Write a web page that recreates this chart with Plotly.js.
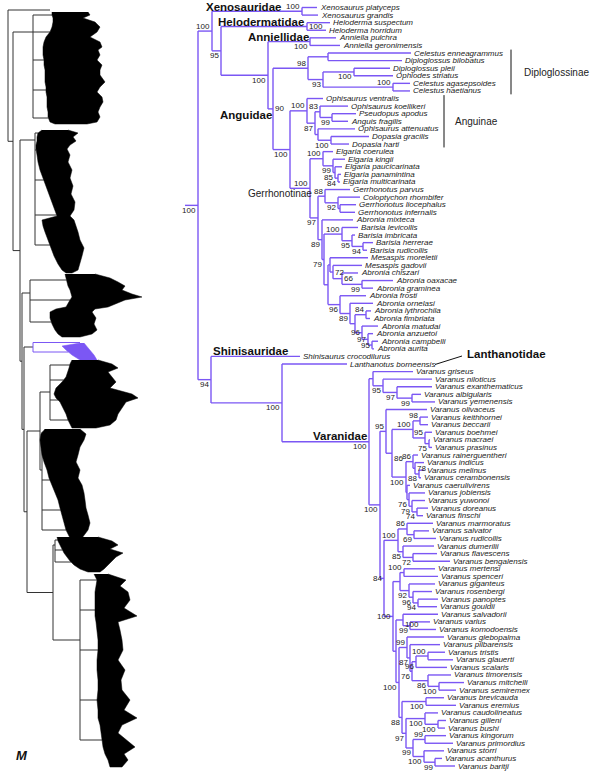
<!DOCTYPE html>
<html><head><meta charset="utf-8">
<script src="https://cdn.plot.ly/plotly-3.0.1.min.js"></script>
<style>html,body{margin:0;padding:0;background:#fff}#chart{width:600px;height:776px}</style>
</head><body><div id="chart"></div>
<script>
// ---------------- DATA ----------------
// Anguimorpha tree (Newick-like). Number after ':' = node depth from root (distance units).
// Internal labels = bootstrap support; trailing letter = label placement (a above, b below, r right, l left, c below-right).
const xenosauridae = "(Xenosaurus_platyceps:119,Xenosaurus_grandis:120)100a:104";
const helodermatidae = "(Heloderma_suspectum:132,Heloderma_horridum:128)100r:109";
const anniellidae = "(Anniella_pulchra:138,Anniella_geronimensis:142)100b:112";
const diploglossinae = "((Celestus_enneagrammus:213,Diploglossus_bilobatus:204):130,((Diploglossus_pleii:192,Ophiodes_striatus:195)100b:156,(Celestus_agasepsoides:212,Celestus_haetianus:212)100a:195)93b:125)98a:110";
const anguinae = "(Ophisaurus_ventralis:125,((Ophisaurus_koellikeri:150,(Pseudopus_apodus:158,Anguis_fragilis:150)99b:134)83a:122,(Ophisaurus_attenuatus:157,(Dopasia_gracilis:171,Dopasia_harti:151)100b:133):120)87b:117)100a:109";
const elgaria = "(Elgaria_coerulea:135,(Elgaria_kingii:147,(Elgaria_paucicarinata:144,(Elgaria_panamintina:143,Elgaria_multicarinata:142)84b:140)85b:137)99b:135)100a:125";
const gerrhonotus = "(Gerrhonotus_parvus:152,(Coloptychon_rhombifer:162,(Gerrhonotus_liocephalus:158,Gerrhonotus_infernalis:157):142)92b:140)88a:127";
const barisia = "(Barisia_levicollis:160,(Barisia_imbricata:157,(Barisia_herrerae:175,Barisia_rudicollis:169)94b:165)95b:154)100a:144";
const mesaspis = "(Mesaspis_moreletii:170,(Mesaspis_gadovii:164,(Abronia_chiszari:160,(Abronia_oaxacae:195,Abronia_graminea:175)99b:164)66r:144)72r:135):132";
const abronia = "(Abronia_frosti:168,(Abronia_ornelasi:175,((Abronia_lythrochila:173,Abronia_fimbriata:172)84a:168,(Abronia_matudai:180,(Abronia_anzuetoi:175,(Abronia_campbelli:180,Abronia_aurita:176)95l:174)97l:170)96l:164):157)89b:152)96b:142";
const african = "(Varanus_griseus:215,(Varanus_niloticus:234,(Varanus_exanthematicus:234,(Varanus_albigularis:223,Varanus_yemenensis:237)99b:214)97b:199)95b:185):175";
const hapturosaurus = "((Varanus_keithhornei:230,Varanus_beccarii:230)98a:222,(Varanus_boehmei:234,(Varanus_macraei:232,Varanus_prasinus:234)75b:231)95a:227)100a:215";
const euprepiosaurus = "((Varanus_rainerguentheri:220,(Varanus_indicus:226,(Varanus_melinus:226,Varanus_cerambonensis:223)88b:221)78r:217)86a:215,(Varanus_caerulivirens:212,(Varanus_jobiensis:227,(Varanus_yuwonoi:227,(Varanus_doreanus:230,Varanus_finschi:225)74b:219)79b:214)76b:211):209)100b:208";
const soterosaurus = "((Varanus_marmoratus:235,(Varanus_salvator:231,Varanus_rudicollis:238)69b:216)86a:209,(Varanus_dumerilii:236,(Varanus_flavescens:239,Varanus_bengalensis:252)72b:215)85b:205)100a:200";
const varanusSS = "((Varanus_mertensi:237,Varanus_spenceri:240)100a:206,(Varanus_giganteus:237,(Varanus_rosenbergi:234,(Varanus_panoptes:240,Varanus_gouldii:239)94b:220)96b:215)92b:211):202";
const papusaurus = "(Varanus_salvadorii:240,(Varanus_varius:232,Varanus_komodoensis:238)99b:212)100c:205";
const odatria1 = "(Varanus_glebopalma:246,(Varanus_pilbarensis:242,(((Varanus_tristis:247,Varanus_glauerti:255)100a:230,Varanus_scalaris:249)96b:218,(Varanus_timorensis:253,(Varanus_mitchelli:266,Varanus_semiremex:258)100b:241)86b:230)76b:214)87b:212)99a:209";
const odatria2 = "((Varanus_brevicauda:246,Varanus_eremius:258)100b:228,((Varanus_caudolineatus:240,(Varanus_gilleni:248,Varanus_bushi:247)100b:240)100b:227,((Varanus_kingorum:248,Varanus_primordius:255)99a:227,(Varanus_storri:246,(Varanus_acanthurus:244,Varanus_baritji:257)99b:237)100b:226)99b:215)97b:208)88b:204";
const rootStemLength = 13;

// Family / subfamily labels
const familyLabels = ["Xenosauridae","Helodermatidae","Anniellidae","Anguidae","Shinisauridae","Lanthanotidae","Varanidae"];
const subfamilyLabels = ["Gerrhonotinae","Diploglossinae","Anguinae"];

// Overview (thumbnail) tree of all squamates: backbone node depths + collapsed clade silhouettes
const thumbTree = {d:8, kids:[
  {tip:'Dibamidae', y:10, d:50},
  {d:13, kids:[
    {blob:'Gekkota'},
    {d:20, kids:[
      {blob:'Scinciformata'},
      {d:22, kids:[
        {blob:'Laterata'},
        {d:24, kids:[
          {blob:'Anguimorpha'},
          {d:27, kids:[
            {d:40, kids:[{blob:'IguaniaA'},{blob:'IguaniaB'}]},
            {d:53, kids:[{blob:'Scolecophidia'},{blob:'Alethinophidia'}]}
          ]}
        ]}
      ]}
    ]}
  ]}
]};
const thumbBlobs = {
  Gekkota:{attach:32, crown:33, subs:[15,32,60,90,118],
    ys:[12,15,18,22,27,32,37,42,47,50,55,60,65,70,75,82,87,92,97,102,107,112,117,122,124],
    left:[52,52,53,53,52,50,46,44,43,43,43,44,44,45,45,45,46,46,47,47,47,48,48,50,55],
    right:[88,90,83,95,100,97,90,100,102,98,100,97,102,100,100,105,100,97,102,103,100,98,100,97,87]},
  Scinciformata:{attach:140, crown:35, subs:[133,150,180,215,245],
    ys:[130,133,137,141,145,149,155,162,170,178,186,194,202,210,216,220,226,232,240,248,256,264,270,273],
    left:[42,38,37,37,36,36,37,38,40,43,46,49,52,55,57,42,43,45,48,51,54,58,62,66],
    right:[68,78,73,76,70,67,70,68,72,70,73,71,75,74,70,74,76,78,80,84,82,80,78,72]},
  Laterata:{attach:293, crown:30, subs:[280,300,322],
    ys:[274,278,282,286,290,294,297,300,303,307,309,312,318,324,330,334,337],
    left:[65,66,67,68,70,71,72,70,68,66,56,50,50,52,55,58,62],
    right:[95,110,118,125,122,132,142,125,118,108,95,92,96,94,97,92,80]},
  Anguimorpha:{attach:347, crown:33, subs:[342.5,352], highlight:true,
    ys:[343,346,350,355,360,363],
    left:[80,62,66,72,80,86],
    right:[84,86,90,94,97,96]},
  IguaniaA:{attach:392, crown:50, subs:[365,380,400,420],
    ys:[360,364,368,372,377,382,388,394,398,402,408,414,420,425,428],
    left:[72,70,69,68,66,62,56,54,56,60,63,66,68,70,72],
    right:[98,112,118,108,112,116,110,132,138,126,122,118,116,110,96]},
  IguaniaB:{attach:470, crown:42, subs:[432,450,480,510,530],
    ys:[429,434,440,447,455,462,470,478,485,493,500,508,515,523,530,538],
    left:[45,41,40,41,42,44,47,49,52,55,58,60,62,64,66,70],
    right:[80,86,84,80,78,76,80,78,82,84,85,86,88,90,88,82]},
  Scolecophidia:{attach:545, crown:55, subs:[540,550,562],
    ys:[537,541,545,549,553,557,561,565,569,572],
    left:[57,58,60,62,64,67,70,74,80,88],
    right:[98,112,118,110,123,116,112,108,104,100]},
  Alethinophidia:{attach:640, crown:80, subs:[580,610,650,700,740],
    ys:[574,580,586,592,600,608,616,622,630,640,650,660,670,680,690,700,710,718,725,733,740,747,754,760,767],
    left:[94,97,96,95,95,95,95,96,97,98,98,97,97,98,98,97,98,98,100,101,102,103,105,108,110],
    right:[108,126,120,128,130,124,137,118,120,122,123,118,125,121,122,130,124,137,122,118,126,135,124,128,122]}
};

// ---------------- BUILD ----------------
const gerrhonotinae = `(${elgaria},(${gerrhonotus},(Abronia_mixteca:155,(${barisia},(${mesaspis},${abronia}):130)79b:126)89b:124)97b:120)100a:112`;
const anguidae = `(${diploglossinae},(${anguinae},${gerrhonotinae})100b:92)90r:75`;
const upperClade = `(${xenosauridae},(${helodermatidae},(${anniellidae},${anguidae})100b:70)95b:23)100a:14`;
const pacific = `(Varanus_olivaceus:229,(${hapturosaurus},${euprepiosaurus})86c:194)95a:188`;
const australian = `(${varanusSS},(${papusaurus},(${odatria1},${odatria2})100b:201):198)100l:195`;
const varanus = `(${african},(${pacific},(${soterosaurus},${australian})84l:186)100b:182)100b:171`;
const lowerClade = `(Shinisaurus_crocodilurus:102,(Lanthanotus_borneensis:149,${varanus})100b:84)94b:13`;
const newick = `(${upperClade},${lowerClade})100b:0;`;

function parseTree(s){
  s = s.replace(/\s+/g,'');
  let i = 0;
  function node(){
    const n = {children:[]};
    if (s[i] === '('){
      i++;
      n.children.push(node());
      while (s[i] === ','){ i++; n.children.push(node()); }
      i++;
    }
    let name = '';
    while (i < s.length && !':,();'.includes(s[i])) name += s[i++];
    if (s[i] === ':'){
      i++; let num = '';
      while (i < s.length && !',();'.includes(s[i])) num += s[i++];
      n.depth = parseFloat(num);
    }
    if (n.children.length) n.label = name; else n.name = name.replace(/_/g,' ');
    return n;
  }
  return node();
}
const root = parseTree(newick);
const tips = [], inner = [];
(function layout(n){
  if (!n.children.length){ n.y = tips.length; tips.push(n); return; }
  n.children.forEach(layout);
  n.y = (n.children[0].y + n.children[n.children.length-1].y)/2;
  inner.push(n);
})(root);

const PURPLE = '#7b57f4';
const FONT = 'Liberation Sans, Arial, Helvetica, sans-serif';
const ex = [], ey = [];
function seg(x0,y0,x1,y1){ ex.push(x0,x1,null); ey.push(y0,y1,null); }
seg(root.depth - rootStemLength, root.y, root.depth, root.y);
inner.forEach(n=>{
  const ys = n.children.map(c=>c.y);
  seg(n.depth, Math.min(...ys), n.depth, Math.max(...ys));
  n.children.forEach(c=>seg(n.depth, c.y, c.depth, c.y));
});

const annotations = [];
tips.forEach(t=>annotations.push({x:t.depth, y:t.y, xref:'x', yref:'y', text:'<i>'+t.name+'</i>',
  showarrow:false, xanchor:'left', yanchor:'middle', xshift:1.5, borderpad:0,
  font:{family:FONT, size:8, color:'#222'}}));
inner.forEach(n=>{
  const m = /^(\d+)([abrlc]?)$/.exec(n.label || '');
  if (!m) return;
  const a = {x:n.depth, y:n.y, xref:'x', yref:'y', text:m[1], showarrow:false, borderpad:0,
    font:{family:FONT, size:8, color:'#222'}};
  const p = m[2] || 'b';
  if (p==='a'){ a.xanchor='right'; a.yanchor='bottom'; a.xshift=-1; a.yshift=-0.5; }
  if (p==='b'){ a.xanchor='right'; a.yanchor='top'; a.xshift=-1; a.yshift=0.5; }
  if (p==='r'){ a.xanchor='left'; a.yanchor='middle'; a.xshift=1; }
  if (p==='l'){ a.xanchor='right'; a.yanchor='middle'; a.xshift=-1; }
  if (p==='c'){ a.xanchor='left'; a.yanchor='top'; a.xshift=1; a.yshift=0.5; }
  annotations.push(a);
});

// paper helpers for free text
const W = 600, H = 776;
const px = v => v/W, py = v => 1 - v/H;
const famPos = [[205,7],[217,22],[247,37],[219,114.5],[212,351.5],[466,354.5],[312,435.5]];
familyLabels.forEach((f,k)=>annotations.push({xref:'paper', yref:'paper', x:px(famPos[k][0]), y:py(famPos[k][1]),
  text:'<b>'+f+'</b>', showarrow:false, xanchor:'left', yanchor:'middle', borderpad:0,
  font:{family:FONT, size:11.5, color:'#111'}}));
const subPos = [[247,193.5],[523,72.5],[454,121.5]];
subfamilyLabels.forEach((f,k)=>annotations.push({xref:'paper', yref:'paper', x:px(subPos[k][0]), y:py(subPos[k][1]),
  text:f, showarrow:false, xanchor:'left', yanchor:'middle', borderpad:0,
  font:{family:FONT, size:10, color:'#222'}}));
annotations.push({xref:'paper', yref:'paper', x:px(14), y:py(755), text:'<b><i>M</i></b>', showarrow:false,
  xanchor:'left', yanchor:'middle', font:{family:FONT, size:13, color:'#111'}});

const tipIdx = name => tips.find(t=>t.name===name).y;
const shapes = [
  {type:'line', xref:'x', yref:'y', x0:313, x1:313, y0:tipIdx('Celestus enneagrammus')-0.45, y1:tipIdx('Celestus haetianus')+0.45, line:{color:'#111', width:1}},
  {type:'line', xref:'x', yref:'y', x0:246, x1:246, y0:tipIdx('Ophisaurus ventralis')-0.45, y1:tipIdx('Dopasia harti')+0.45, line:{color:'#111', width:1}},
  {type:'line', xref:'paper', yref:'paper', x0:px(435), y0:py(364.5), x1:px(462), y1:py(356), line:{color:'#111', width:1}}
];

// thumbnail
const tbx = [], tby = [];
const thumbTraces = [];
function interp(xs, ys, y){
  if (y <= ys[0]) return xs[0];
  for (let k=1;k<ys.length;k++) if (y <= ys[k]) return xs[k-1] + (xs[k]-xs[k-1])*(y-ys[k-1])/(ys[k]-ys[k-1]);
  return xs[xs.length-1];
}
function thumbLayout(n){
  if (n.tip) return;
  if (n.blob){ const b = thumbBlobs[n.blob]; n.y = b.attach; n.d = b.crown; return; }
  n.kids.forEach(thumbLayout);
  n.y = (n.kids[0].y + n.kids[n.kids.length-1].y)/2;
}
thumbLayout(thumbTree);
function thumbDraw(n){
  if (n.tip) return;
  if (n.blob){
    const b = thumbBlobs[n.blob];
    const col = b.highlight ? PURPLE : '#000';
    const lx = [], ly = [];
    const ext = b.subs.concat([b.attach]);
    lx.push(b.crown,b.crown,null); ly.push(Math.min(...ext),Math.max(...ext),null);
    b.subs.forEach(y=>{ lx.push(b.crown, interp(b.left,b.ys,y), null); ly.push(y,y,null); });
    thumbTraces.push({type:'scatter', mode:'lines', x:lx, y:ly, xaxis:'x2', yaxis:'y2', hoverinfo:'skip',
      line:{color: b.highlight ? PURPLE : '#333', width:1}});
    thumbTraces.push({type:'scatter', mode:'lines', fill:'toself', fillcolor:col,
      x:b.left.concat(b.right.slice().reverse()), y:b.ys.concat(b.ys.slice().reverse()),
      xaxis:'x2', yaxis:'y2', hoverinfo:'skip', line:{color:col, width:0.5}});
    return;
  }
  const ys = n.kids.map(c=>c.y);
  tbx.push(n.d,n.d,null); tby.push(Math.min(...ys),Math.max(...ys),null);
  n.kids.forEach(c=>{
    tbx.push(n.d, c.d, null); tby.push(c.y, c.y, null);
    thumbDraw(c);
  });
}
thumbDraw(thumbTree);

const data = [
  {type:'scatter', mode:'lines', x:ex, y:ey, hoverinfo:'skip', line:{color:PURPLE, width:1.4}},
  {type:'scatter', mode:'lines', x:tbx, y:tby, xaxis:'x2', yaxis:'y2', hoverinfo:'skip', line:{color:'#333', width:1}}
].concat(thumbTraces);

const hidden = {visible:false, showgrid:false, zeroline:false, fixedrange:true};
const layout = {
  width:W, height:H, margin:{l:0,r:0,t:0,b:0}, paper_bgcolor:'#fff', plot_bgcolor:'rgba(0,0,0,0)',
  showlegend:false,
  xaxis:Object.assign({range:[-198, 402], domain:[0,1]}, hidden),
  yaxis:Object.assign({range:[(H-7.5)/7.585, -7.5/7.585], domain:[0,1]}, hidden),
  xaxis2:Object.assign({range:[0,195], domain:[0,195/W], anchor:'y2'}, hidden),
  yaxis2:Object.assign({range:[H,0], domain:[0,1], anchor:'x2'}, hidden),
  annotations, shapes
};
Plotly.newPlot('chart', data, layout, {staticPlot:true, displayModeBar:false});
</script>
</body></html>
